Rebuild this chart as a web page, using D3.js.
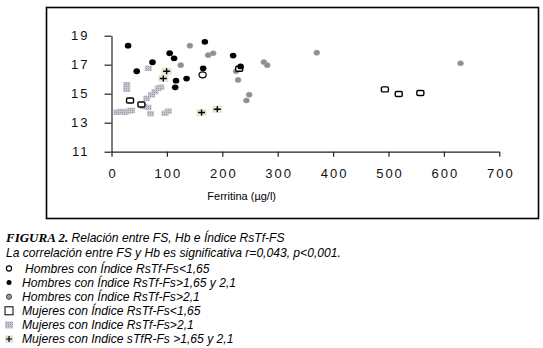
<!DOCTYPE html>
<html><head><meta charset="utf-8">
<script src="https://cdn.jsdelivr.net/npm/d3@7"></script>
<style>
body{margin:0;background:#fff;}
svg{display:block;}
.tk text{font-family:"Liberation Sans",Arial,sans-serif;font-size:13px;letter-spacing:2px;fill:#111;}
.cap{font-family:"Liberation Sans",Arial,sans-serif;font-style:italic;font-size:12.1px;fill:#000;}
</style></head><body>
<svg id="c" width="543" height="348"></svg>
<script>
// ---- data ----
const xTicks = [0,100,200,300,400,500,600,700];
const yTicks = [11,13,15,17,19];
const xLabel = "Ferritina (µg/l)";
// Hombres con Índice RsTf-Fs<1,65 (open circle)
const hombresLow = [[164.5,16.3]];
// Hombres con Índice RsTf-Fs>1,65 y 2,1 (black dot)
const hombresMid = [[30,18.31],[45.5,16.55],[74,17.17],[105,17.79],[113,17.44],[116.5,15.9],[115,15.44],[135.5,16.04],[168.5,18.58],[165.5,16.75],[219.5,17.63],[233,16.88]];
// Hombres con Índice RsTf-Fs>2,1 (gray circle)
const hombresHigh = [[141.5,18.31],[174.5,17.66],[183.5,17.79],[125,16.97],[225,16.55],[228.5,15.95],[243.5,14.53],[248.5,14.93],[275,17.18],[281,16.97],[370.5,17.83],[630,17.1]];
// Mujeres con Índice RsTf-Fs<1,65 (open square)
const mujeresLow = [[33.5,14.53],[54,14.26],[230.5,16.72],[493.5,15.3],[518.5,14.98],[557.5,15.05]];
// Mujeres con Índice RsTf-Fs>2,1 (gray square)
const mujeresHigh = [[27.5,15.62],[27.5,15.3],[63.5,14.68],[72.5,14.92],[78.5,15.14],[84.5,15.38],[89,15.45],[66.5,16.75],[10,13.72],[17,13.78],[24,13.72],[31,13.8],[36,13.85],[58,14.12],[66,14.05],[70.5,13.62],[96.5,13.65],[102.5,13.8]];
// Mujeres con Índice sTfR-Fs >1,65 y 2,1 (plus)
const mujeresMid = [[99.5,16.55],[93.5,16.05],[162.5,13.7],[191,13.93]];

const captionTitle = "FIGURA 2.";
const captionTitleRest = " Relación entre FS, Hb e Índice RsTf-FS";
const captionLine2 = "La correlación entre FS y Hb es significativa r=0,043, p<0,001.";
const legendLabels = [
  "Hombres con Índice RsTf-Fs<1,65",
  "Hombres con Índice RsTf-Fs>1,65 y 2,1",
  "Hombres con Índice RsTf-Fs>2,1",
  "Mujeres con Índice RsTf-Fs<1,65",
  "Mujeres con Indice RsTf-Fs>2,1",
  "Mujeres con Indice sTfR-Fs >1,65 y 2,1"
];

// ---- drawing ----
const svg = d3.select("#c");
const defs = svg.append("defs");
const pat = defs.append("pattern").attr("id","dots").attr("width",2).attr("height",2).attr("patternUnits","userSpaceOnUse");
pat.append("rect").attr("width",2).attr("height",2).attr("fill","#c6c6d0");
pat.append("rect").attr("width",1).attr("height",1).attr("fill","#9a9aa8");

// frame
svg.append("rect").attr("x",46.5).attr("y",7.5).attr("width",492).attr("height",211)
  .attr("fill","none").attr("stroke","#000").attr("stroke-width",1.6);

const x = d3.scaleLinear().domain([0,700]).range([111.5,499.3]);
const y = d3.scaleLinear().domain([11,19]).range([151.7,35.7]);

const gy = svg.append("g").attr("class","tk").attr("transform","translate(111.5,0)")
  .call(d3.axisLeft(y).tickValues(yTicks).tickSize(7).tickSizeOuter(0).tickPadding(15).tickFormat(d3.format("d")));
const gx = svg.append("g").attr("class","tk").attr("transform","translate(0,151.7)")
  .call(d3.axisBottom(x).tickValues(xTicks).tickSize(5).tickSizeOuter(0).tickPadding(12).tickFormat(d3.format("d")));
svg.selectAll(".tk .domain").attr("stroke","#222").attr("stroke-width",1.2);
svg.selectAll(".tk line").attr("stroke","#222").attr("stroke-width",1.2);
gx.selectAll("text").attr("dx","1px");

svg.append("text").attr("x",x(235)).attr("y",200).attr("text-anchor","middle")
  .style("font-family","'Liberation Sans',Arial,sans-serif").style("font-size","11px").text(xLabel);

const plot = svg.append("g");
// gray squares
plot.selectAll(".gs").data(mujeresHigh).join("rect")
  .attr("x",d=>x(d[0])-3.5).attr("y",d=>y(d[1])-2.7).attr("width",7).attr("height",5.4)
  .attr("fill","url(#dots)");
// gray circles
plot.selectAll(".gc").data(hombresHigh).join("ellipse")
  .attr("cx",d=>x(d[0])).attr("cy",d=>y(d[1])).attr("rx",3).attr("ry",2.6)
  .attr("fill","#8e8e8e").attr("stroke","#a8a8a8").attr("stroke-width",0.6);
// plus markers
const pm = plot.selectAll(".pm").data(mujeresMid).join("g")
  .attr("transform",d=>`translate(${x(d[0])},${y(d[1])})`);
pm.append("rect").attr("x",-5).attr("y",-3.5).attr("width",10).attr("height",7).attr("fill","#e6e6d2");
pm.append("path").attr("d","M-3.5,0H3.5M0,-3V3").attr("stroke","#000").attr("stroke-width",1.4);
// open squares
plot.selectAll(".os").data(mujeresLow).join("rect")
  .attr("x",d=>x(d[0])-3.5).attr("y",d=>y(d[1])-2.5).attr("width",7).attr("height",5).attr("rx",1.2)
  .attr("fill","#fff").attr("stroke","#000").attr("stroke-width",1.4);
// black dots
plot.selectAll(".bd").data(hombresMid).join("ellipse")
  .attr("cx",d=>x(d[0])).attr("cy",d=>y(d[1])).attr("rx",3.3).attr("ry",2.9).attr("fill","#000");
// open circles
plot.selectAll(".oc").data(hombresLow).join("ellipse")
  .attr("cx",d=>x(d[0])).attr("cy",d=>y(d[1])).attr("rx",3.6).attr("ry",3)
  .attr("fill","#fff").attr("stroke","#000").attr("stroke-width",1.2);

// caption
const cap = svg.append("g");
const t1 = cap.append("text").attr("class","cap").attr("x",6).attr("y",242);
t1.append("tspan").style("font-weight","bold").style("font-family","'Liberation Serif',serif").style("font-size","13px").text(captionTitle);
t1.append("tspan").text(captionTitleRest);
cap.append("text").attr("class","cap").attr("x",6).attr("y",257).text(captionLine2);

const ly0 = 272.5, ldy = 14.1;
legendLabels.forEach((lab,i)=>{
  cap.append("text").attr("class","cap").attr("x", i===0?25:22).attr("y", ly0+i*ldy).text(lab);
});
const lm = (i)=> ly0 + i*ldy - 4;
cap.append("circle").attr("cx",9).attr("cy",lm(0)).attr("r",2.6).attr("fill","#fff").attr("stroke","#000").attr("stroke-width",1.1);
cap.append("circle").attr("cx",9).attr("cy",lm(1)).attr("r",2.5).attr("fill","#000");
cap.append("circle").attr("cx",9).attr("cy",lm(2)).attr("r",2.6).attr("fill","#999").attr("stroke","#444").attr("stroke-width",1);
cap.append("rect").attr("x",5).attr("y",lm(3)-4).attr("width",8).attr("height",8).attr("fill","#fff").attr("stroke","#000").attr("stroke-width",1);
cap.append("rect").attr("x",5).attr("y",lm(4)-3.5).attr("width",8).attr("height",7).attr("fill","url(#dots)");
cap.append("rect").attr("x",5).attr("y",lm(5)-3.5).attr("width",8).attr("height",7).attr("fill","#e0e0cc");
cap.append("path").attr("d",`M6,${lm(5)}H12M9,${lm(5)-3}V${lm(5)+3}`).attr("stroke","#000").attr("stroke-width",1.2);
</script>
</body></html>
